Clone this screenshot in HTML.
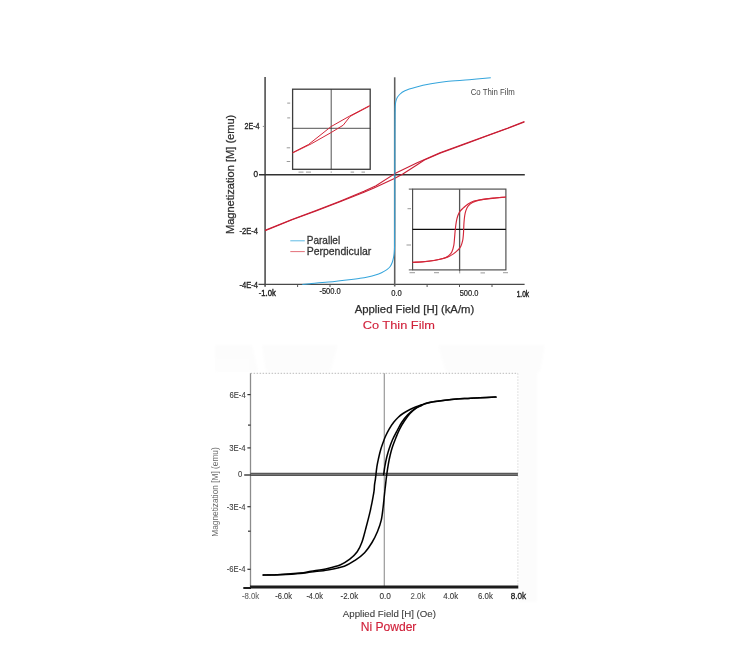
<!DOCTYPE html>
<html><head><meta charset="utf-8">
<style>
html,body{margin:0;padding:0;background:#fff;}
body{width:750px;height:650px;overflow:hidden;font-family:"Liberation Sans",sans-serif;}
svg{display:block;}
text{font-family:"Liberation Sans",sans-serif;}
</style></head><body>
<svg width="750" height="650" viewBox="0 0 750 650">
<defs>
<filter id="b" x="-5%" y="-5%" width="110%" height="110%"><feGaussianBlur stdDeviation="0.65"/></filter>
<filter id="b2" x="-5%" y="-5%" width="110%" height="110%"><feGaussianBlur stdDeviation="1.5"/></filter>
</defs>
<rect width="750" height="650" fill="#fff"/>
<g fill="#fcfcfc" filter="url(#b2)"><path d="M215,345 H252 L258,372 H215 Z"/><path d="M262,345 H338 L330,372 H266 Z"/><path d="M438,345 H545 L540,372 H446 Z"/><rect x="519" y="372" width="18" height="230"/><rect x="215" y="358" width="35" height="14" fill="#fdfdfd"/></g>
<g filter="url(#b)">
<!-- ================= TOP CHART ================= -->
<g id="top">
 <!-- axes -->
 <line x1="265.1" y1="77" x2="265.1" y2="286.8" stroke="#636363" stroke-width="1.8"/>
 <line x1="258.5" y1="284.4" x2="524.6" y2="284.4" stroke="#484848" stroke-width="1.3"/>
 <line x1="394.7" y1="77.3" x2="394.7" y2="286.5" stroke="#606060" stroke-width="1.6"/>
 <line x1="259" y1="174.75" x2="524.8" y2="174.75" stroke="#333" stroke-width="1.4"/>
 <!-- y ticks -->
 <g stroke="#555" stroke-width="1">
  <line x1="262.8" y1="126.4" x2="265" y2="126.4" stroke="#888"/>
  <line x1="297.6" y1="284.6" x2="297.6" y2="287"/>
  <line x1="330" y1="284.6" x2="330" y2="287"/>
  <line x1="427.1" y1="284.6" x2="427.1" y2="287"/>
  <line x1="459.5" y1="284.6" x2="459.5" y2="287"/>
  <line x1="492" y1="284.6" x2="492" y2="287"/>
 </g>
 <!-- main red -->
 <g fill="none" stroke="#c91f35" stroke-width="1.1" stroke-linejoin="round">
  <path d="M265.1,230.3 L292,219.4 L316,210.6 L340,201.2 L364,191.3 L376,185.7 L394.9,173.6 L417.2,162.8 L440,152.8 L465.3,143.6 L486.7,135.7 L508,128 L524.4,121.6"/>
  <path d="M265.1,230.7 L292,219.8 L316,211 L340,201.8 L364,192.2 L374,187.9 L394.9,178.3 L402.8,174 L417.2,164.8 L424.4,160 L440,153.2 L465.3,143.9 L486.7,136 L508,128.3 L524.4,121.9"/>
 </g>
 <!-- blue -->
 <g fill="none" stroke="#35a5dc" stroke-width="1.05" stroke-linejoin="round">
  <path d="M490.80,77.70 C487.22,78.03 476.72,79.07 469.30,79.70 C461.88,80.33 452.68,80.82 446.30,81.50 C439.92,82.18 436.10,82.85 431.00,83.80 C425.90,84.75 420.05,86.05 415.70,87.20 C411.35,88.35 407.58,89.48 404.90,90.70 C402.22,91.92 401.00,93.10 399.60,94.50 C398.20,95.90 397.22,97.30 396.50,99.10 C395.78,100.90 395.55,102.48 395.30,105.30 C395.05,108.12 395.07,110.22 395.00,116.00 C394.93,121.78 394.88,130.33 394.85,140.00 C394.82,149.67 394.82,160.67 394.80,174.00 C394.78,187.33 394.78,208.17 394.75,220.00 C394.72,231.83 394.69,239.48 394.60,245.00 C394.51,250.52 394.38,250.98 394.20,253.10 C394.02,255.22 393.82,256.17 393.50,257.70 C393.18,259.23 392.82,260.88 392.30,262.30 C391.78,263.72 391.30,264.98 390.40,266.20 C389.50,267.42 388.38,268.52 386.90,269.60 C385.42,270.68 383.42,271.80 381.50,272.70 C379.58,273.60 377.70,274.30 375.40,275.00 C373.10,275.70 370.27,276.35 367.70,276.90 C365.13,277.45 362.73,277.87 360.00,278.30 C357.27,278.73 356.58,278.87 351.30,279.50 C346.02,280.13 335.20,281.40 328.30,282.10 C321.40,282.80 314.23,283.32 309.90,283.70 C305.57,284.08 303.57,284.28 302.30,284.40"/>
 </g>
 <!-- inset 1 -->
 <g>
  <rect x="292.6" y="89.2" width="77.6" height="80.1" fill="#fff" stroke="#3c3c3c" stroke-width="1.3"/>
  <line x1="331.2" y1="89.2" x2="331.2" y2="169.3" stroke="#333" stroke-width="0.85"/>
  <line x1="292.6" y1="128.3" x2="370.2" y2="128.3" stroke="#333" stroke-width="0.85"/>
  <g fill="none" stroke="#d32638" stroke-width="1" stroke-linejoin="round">
   <path d="M292.6,152.6 L308.5,144.5 L331.2,126.5 L349.4,116.2 L369.7,105.6"/>
   <path d="M292.6,153 L311.3,143.8 L331.2,132.5 L343.2,125.2 L350.1,116.4 L369.7,106"/>
  </g>
  <g fill="#999">
   <rect x="287.2" y="102.6" width="3" height="1"/><rect x="287.2" y="117.4" width="3" height="1"/>
   <rect x="286.7" y="147.3" width="3.5" height="1"/><rect x="286.7" y="161" width="3.5" height="1"/>
   <rect x="298.5" y="171.6" width="5" height="1"/><rect x="306" y="171.6" width="5" height="1"/>
   <rect x="330.7" y="171.4" width="1" height="1.4"/><rect x="350.6" y="171.6" width="3.5" height="1"/><rect x="361.5" y="171.6" width="3.5" height="1"/>
  </g>
 </g>
 <!-- inset 2 -->
 <g>
  <rect x="412.6" y="189.1" width="93.3" height="80.8" fill="#fff" stroke="#4a4a4a" stroke-width="1.15"/>
  <line x1="408.8" y1="189.1" x2="412.6" y2="189.1" stroke="#555" stroke-width="1"/>
  <line x1="408.8" y1="269.9" x2="412.6" y2="269.9" stroke="#555" stroke-width="1"/>
  <line x1="459.6" y1="189.1" x2="459.6" y2="271.5" stroke="#555" stroke-width="1.3"/>
  <line x1="412.6" y1="229.4" x2="505.9" y2="229.4" stroke="#111" stroke-width="1.4"/>
  <g fill="none" stroke="#d32638" stroke-width="1.15" stroke-linejoin="round"><path d="M505.91,196.96 C503.76,197.16 497.11,197.69 493.00,198.13 C488.90,198.57 484.45,199.11 481.27,199.60 C478.09,200.09 476.14,200.33 473.94,201.07 C471.74,201.80 469.78,202.90 468.07,204.00 C466.36,205.10 465.01,206.45 463.67,207.67 C462.32,208.89 460.98,209.99 460.00,211.33 C459.02,212.68 458.41,214.02 457.80,215.73 C457.19,217.45 456.75,219.33 456.33,221.60 C455.92,223.87 455.60,226.69 455.31,229.37 C455.01,232.06 454.82,235.12 454.57,237.73 C454.33,240.35 454.28,242.75 453.84,245.07 C453.40,247.39 452.74,249.96 451.93,251.67 C451.13,253.38 450.22,254.28 449.00,255.34 C447.78,256.39 447.05,257.12 444.60,257.98 C442.16,258.83 438.00,259.81 434.33,260.47 C430.67,261.13 426.22,261.62 422.60,261.94 C418.98,262.25 414.29,262.30 412.63,262.38"/><path d="M412.63,262.38 C415.02,262.18 422.65,261.69 427.00,261.20 C431.35,260.71 435.31,260.13 438.73,259.44 C442.16,258.76 445.09,258.02 447.53,257.10 C449.98,256.17 451.69,255.02 453.40,253.87 C455.11,252.72 456.58,251.42 457.80,250.20 C459.02,248.98 459.93,248.12 460.73,246.54 C461.54,244.95 462.20,242.62 462.64,240.67 C463.08,238.71 463.20,236.68 463.37,234.80 C463.55,232.92 463.57,231.33 463.67,229.37 C463.77,227.42 463.79,225.34 463.96,223.07 C464.13,220.79 464.38,217.81 464.69,215.73 C465.01,213.66 465.31,212.19 465.87,210.60 C466.43,209.01 466.97,207.55 468.07,206.20 C469.17,204.86 470.76,203.51 472.47,202.53 C474.18,201.56 475.89,200.94 478.34,200.33 C480.78,199.72 482.54,199.43 487.14,198.87 C491.73,198.30 502.78,197.28 505.91,196.96"/></g>
  <g fill="#999">
   <rect x="407.5" y="208.2" width="3.5" height="1"/><rect x="406.5" y="244.5" width="4.5" height="1"/>
   <rect x="409.5" y="272.2" width="5.5" height="1"/><rect x="434" y="272.2" width="5" height="1"/>
   <rect x="459.2" y="272" width="1" height="1.4"/><rect x="480.5" y="272.4" width="4.5" height="1"/><rect x="503" y="272.2" width="5" height="1"/>
  </g>
 </g>
 <!-- legend -->
 <line x1="290.3" y1="240.8" x2="304.8" y2="240.8" stroke="#4fb3e2" stroke-width="0.9"/>
 <line x1="290.3" y1="251.6" x2="304.8" y2="251.6" stroke="#e0606a" stroke-width="0.9"/>
 <text x="306.7" y="244" font-size="11.5" fill="#333" stroke="#333" stroke-width="0.3" textLength="33.5" lengthAdjust="spacingAndGlyphs">Parallel</text>
 <text x="306.7" y="254.9" font-size="11.5" fill="#333" stroke="#333" stroke-width="0.3" textLength="64.6" lengthAdjust="spacingAndGlyphs">Perpendicular</text>
 <!-- labels -->
 <text x="470.7" y="95.4" font-size="8.7" fill="#484848" textLength="44.1" lengthAdjust="spacingAndGlyphs">Co Thin Film</text>
 <g font-size="8.2" fill="#222" stroke="#222" stroke-width="0.3">
  <text x="244.4" y="129.2" textLength="15.2" lengthAdjust="spacingAndGlyphs">2E-4</text>
  <text x="253.5" y="177.4">0</text>
  <text x="239.4" y="233.8" textLength="18.6" lengthAdjust="spacingAndGlyphs">-2E-4</text>
  <text x="239.4" y="287.7" textLength="18.6" lengthAdjust="spacingAndGlyphs">-4E-4</text>
 </g>
 <g font-size="8.4" fill="#222" stroke="#222" stroke-width="0.2">
  <text x="258.8" y="295.9" textLength="17" stroke-width="0.4" lengthAdjust="spacingAndGlyphs">-1.0k</text>
  <text x="319.4" y="294.3" textLength="21.4" lengthAdjust="spacingAndGlyphs">-500.0</text>
  <text x="391.2" y="296.2" textLength="10.6" lengthAdjust="spacingAndGlyphs">0.0</text>
  <text x="459.7" y="296.2" textLength="18.7" lengthAdjust="spacingAndGlyphs">500.0</text>
  <text x="516.7" y="296.9" textLength="12.4" stroke-width="0.4" lengthAdjust="spacingAndGlyphs">1.0k</text>
 </g>
 <text transform="translate(233.9,174.4) rotate(-90)" text-anchor="middle" font-size="11.4" fill="#2e2e2e" stroke="#2e2e2e" stroke-width="0.25" textLength="119.4" lengthAdjust="spacingAndGlyphs">Magnetization [M] (emu)</text>
 <text x="354.7" y="312.5" font-size="10.7" fill="#2e2e2e" stroke="#2e2e2e" stroke-width="0.25" textLength="119.6" lengthAdjust="spacingAndGlyphs">Applied Field [H] (kA/m)</text>
 <text x="362.7" y="328.9" font-size="11.8" fill="#d0213a" stroke="#d0213a" stroke-width="0.12" textLength="72.3" lengthAdjust="spacingAndGlyphs">Co Thin Film</text>
</g>
<!-- ================= BOTTOM CHART ================= -->
<g id="bot">
 <rect x="250.6" y="373.3" width="267.3" height="213.8" fill="#fff"/>
 <line x1="250.6" y1="373.3" x2="517.9" y2="373.3" stroke="#bbb" stroke-width="1" stroke-dasharray="1.5,1.5"/>
 <line x1="517.9" y1="373.3" x2="517.9" y2="586" stroke="#d8d8d8" stroke-width="1" stroke-dasharray="1.5,1.5"/>
 <line x1="250.5" y1="373.3" x2="250.5" y2="587" stroke="#8c8c8c" stroke-width="1.3"/>
 <line x1="384.3" y1="373.3" x2="384.3" y2="586" stroke="#999" stroke-width="1.2"/>
 <!-- zero line -->
 <line x1="250.4" y1="474.4" x2="517.9" y2="474.4" stroke="#555" stroke-width="3.2"/>
 <line x1="244.2" y1="475" x2="251" y2="475" stroke="#444" stroke-width="1.5"/>
 <line x1="251" y1="474.4" x2="517.9" y2="474.4" stroke="#808080" stroke-width="0.9"/>
 <!-- bottom thick axis -->
 <line x1="250" y1="586.9" x2="518.3" y2="586.9" stroke="#1a1a1a" stroke-width="3.0"/>
 <line x1="243.3" y1="588" x2="251" y2="588" stroke="#1a1a1a" stroke-width="2"/>
 <g stroke="#333" stroke-width="1.2">
  <line x1="247.4" y1="394.6" x2="250.6" y2="394.6"/>
  <line x1="248" y1="425.1" x2="250.6" y2="425.1"/>
  <line x1="247.4" y1="447.9" x2="250.6" y2="447.9"/>
  <line x1="247.4" y1="506.7" x2="250.6" y2="506.7"/>
  <line x1="248" y1="531.2" x2="250.6" y2="531.2"/>
  <line x1="247.4" y1="569.3" x2="250.6" y2="569.3"/>
 </g>
 <g fill="none" stroke="#050505" stroke-width="1.55" stroke-linejoin="round" stroke-linecap="round" ><path d="M495.90,397.10 C493.25,397.22 484.65,397.58 480.00,397.80 C475.35,398.02 471.88,398.20 468.00,398.40 C464.12,398.60 460.53,398.70 456.70,399.00 C452.87,399.30 448.90,399.73 445.00,400.20 C441.10,400.67 436.30,401.32 433.30,401.80 C430.30,402.28 428.93,402.60 427.00,403.10 C425.07,403.60 423.62,404.15 421.70,404.80 C419.78,405.45 417.45,406.22 415.50,407.00 C413.55,407.78 412.08,408.42 410.00,409.50 C407.92,410.58 404.95,412.22 403.00,413.50 C401.05,414.78 399.85,415.73 398.30,417.20 C396.75,418.67 395.25,420.28 393.70,422.30 C392.15,424.32 390.37,426.97 389.00,429.30 C387.63,431.63 386.47,434.15 385.50,436.30 C384.53,438.45 383.98,440.05 383.20,442.20 C382.42,444.35 381.58,446.48 380.80,449.20 C380.02,451.92 379.15,455.58 378.50,458.50 C377.85,461.42 377.40,463.40 376.90,466.70 C376.40,470.00 375.90,475.23 375.50,478.30 C375.10,481.37 374.78,482.70 374.50,485.10 C374.22,487.50 374.52,488.35 373.80,492.70 C373.08,497.05 371.58,505.05 370.20,511.20 C368.82,517.35 366.90,524.38 365.50,529.60 C364.10,534.82 363.18,538.80 361.80,542.50 C360.42,546.20 359.20,549.02 357.20,551.80 C355.20,554.58 352.57,557.05 349.80,559.20 C347.03,561.35 344.28,563.17 340.60,564.70 C336.92,566.23 332.62,567.32 327.70,568.40 C322.78,569.48 315.72,570.43 311.10,571.20 C306.48,571.97 305.18,572.43 300.00,573.00 C294.82,573.57 286.13,574.25 280.00,574.60 C273.87,574.95 266.00,575.02 263.20,575.10"/><path d="M263.20,575.10 C266.00,575.05 273.87,575.05 280.00,574.80 C286.13,574.55 294.82,574.08 300.00,573.60 C305.18,573.12 306.48,572.52 311.10,571.90 C315.72,571.28 322.17,570.85 327.70,569.90 C333.23,568.95 339.68,567.83 344.30,566.20 C348.92,564.57 352.02,562.35 355.40,560.10 C358.78,557.85 361.83,555.63 364.60,552.70 C367.37,549.77 369.85,546.03 372.00,542.50 C374.15,538.97 375.97,535.18 377.50,531.50 C379.03,527.82 380.27,524.40 381.20,520.40 C382.13,516.40 382.57,511.73 383.10,507.50 C383.63,503.27 384.00,498.73 384.40,495.00 C384.80,491.27 385.12,488.47 385.50,485.10 C385.88,481.73 386.23,478.27 386.70,474.80 C387.17,471.33 387.72,467.60 388.30,464.30 C388.88,461.00 389.50,457.92 390.20,455.00 C390.90,452.08 391.53,449.72 392.50,446.80 C393.47,443.88 394.83,440.42 396.00,437.50 C397.17,434.58 398.13,432.02 399.50,429.30 C400.87,426.58 402.45,423.83 404.20,421.20 C405.95,418.57 408.07,415.65 410.00,413.50 C411.93,411.35 413.85,409.67 415.80,408.30 C417.75,406.93 419.83,406.13 421.70,405.30 C423.57,404.47 425.07,403.88 427.00,403.30 C428.93,402.72 430.30,402.32 433.30,401.80 C436.30,401.28 441.10,400.67 445.00,400.20 C448.90,399.73 452.87,399.30 456.70,399.00 C460.53,398.70 464.12,398.60 468.00,398.40 C471.88,398.20 475.35,398.02 480.00,397.80 C484.65,397.58 493.25,397.22 495.90,397.10"/><path d="M383.60,474.80 C383.80,473.45 384.28,469.62 384.80,466.70 C385.32,463.78 386.00,460.22 386.70,457.30 C387.40,454.38 388.03,452.12 389.00,449.20 C389.97,446.28 391.13,442.92 392.50,439.80 C393.87,436.68 395.65,433.42 397.20,430.50 C398.75,427.58 400.05,424.90 401.80,422.30 C403.55,419.70 405.55,417.15 407.70,414.90 C409.85,412.65 412.37,410.42 414.70,408.80 C417.03,407.18 420.53,405.80 421.70,405.20"/></g>
 <g font-size="8.3" fill="#3a3a3a" stroke="#3a3a3a" stroke-width="0.08">
  <text x="229.4" y="397.6" textLength="16.3" lengthAdjust="spacingAndGlyphs">6E-4</text>
  <text x="229.2" y="450.9" textLength="16.4" lengthAdjust="spacingAndGlyphs">3E-4</text>
  <text x="238" y="477.2" textLength="4.3" lengthAdjust="spacingAndGlyphs">0</text>
  <text x="226.8" y="509.7" textLength="18.7" lengthAdjust="spacingAndGlyphs">-3E-4</text>
  <text x="226.8" y="572.1" textLength="18.7" lengthAdjust="spacingAndGlyphs">-6E-4</text>
 </g>
 <g font-size="8.8" fill="#333" stroke="#333" stroke-width="0.1">
  <text x="241.9" y="599.2" textLength="17.3" lengthAdjust="spacingAndGlyphs" fill="#666" stroke="#666">-8.0k</text>
  <text x="275.2" y="599.2" textLength="16.8" lengthAdjust="spacingAndGlyphs">-6.0k</text>
  <text x="306.4" y="599.2" textLength="16.5" lengthAdjust="spacingAndGlyphs">-4.0k</text>
  <text x="340.5" y="599.2" textLength="17.6" lengthAdjust="spacingAndGlyphs">-2.0k</text>
  <text x="379.4" y="599.2" textLength="11.5" lengthAdjust="spacingAndGlyphs">0.0</text>
  <text x="410.6" y="599.2" textLength="14.8" lengthAdjust="spacingAndGlyphs" fill="#555" stroke="#555">2.0k</text>
  <text x="443.3" y="599.2" textLength="14.8" lengthAdjust="spacingAndGlyphs">4.0k</text>
  <text x="478" y="599.2" textLength="14.8" lengthAdjust="spacingAndGlyphs">6.0k</text>
  <text x="510.7" y="599.2" textLength="15.4" lengthAdjust="spacingAndGlyphs" fill="#1a1a1a" stroke="#1a1a1a" stroke-width="0.3">8.0k</text>
 </g>
 <text transform="translate(217.9,492) rotate(-90)" text-anchor="middle" font-size="8.8" fill="#686868" textLength="89.5" lengthAdjust="spacingAndGlyphs">Magnetization [M] (emu)</text>
 <text x="342.8" y="616.8" font-size="9.1" fill="#3c3c3c" stroke="#3c3c3c" stroke-width="0.1" textLength="93.2" lengthAdjust="spacingAndGlyphs">Applied Field [H] (Oe)</text>
 <text x="360.7" y="630.7" font-size="12.2" fill="#d0213a" stroke="#d0213a" stroke-width="0.15" textLength="55.7" lengthAdjust="spacingAndGlyphs">Ni Powder</text>
</g>
</g>
</svg>
</body></html>
